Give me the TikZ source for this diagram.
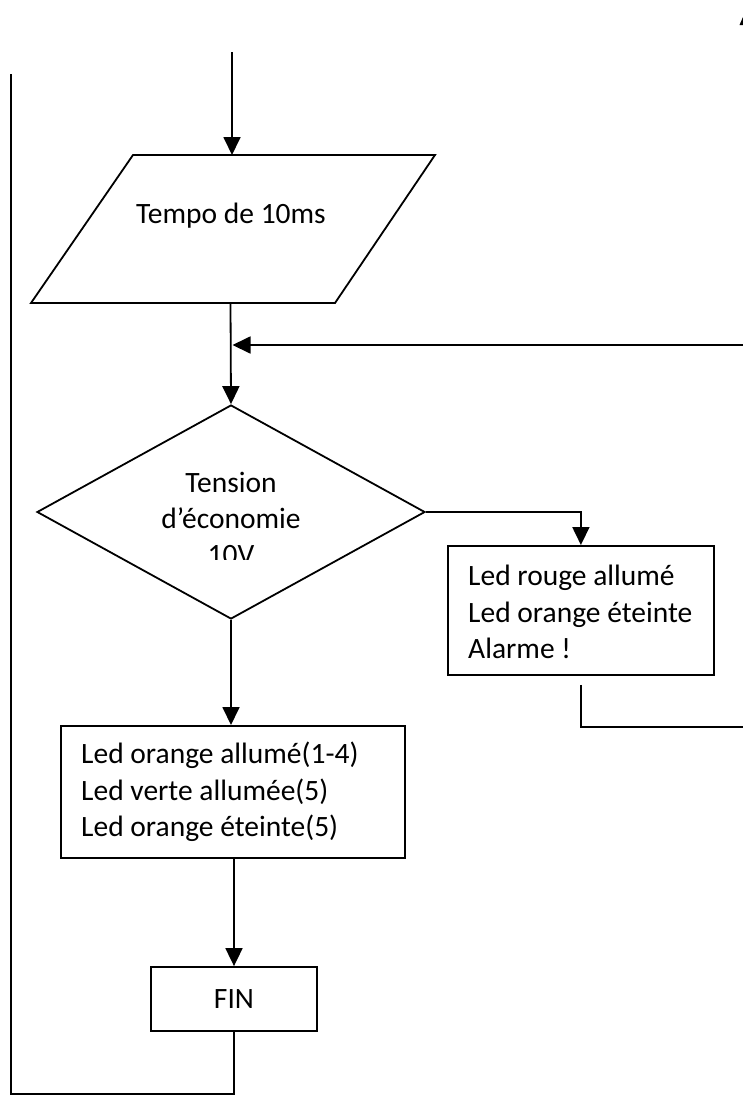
\documentclass[tikz,border=0pt]{standalone}
\usepackage{fontspec}
\setmainfont{Carlito}
\usetikzlibrary{arrows.meta,shapes.geometric}
\begin{document}
\begin{tikzpicture}[x=1pt,y=-1pt,
  line/.style={line width=1.8pt},
  arr/.style={line, -{Triangle[length=18pt,width=17pt]}},
  txt/.style={font=\fontsize{29.5}{36.5}\selectfont},
  box/.style={draw, line width=1.8pt, inner sep=0pt, anchor=north west},
  boxtxt/.style={txt, align=left, anchor=west, inner sep=0pt}
]
\useasboundingbox (0,0) rectangle (743,1095);

% top-right mark
\fill (739.5,25) -- (743,17) -- (743,25) -- cycle;

% parallelogram
\coordinate (ptl) at (133,155);
\coordinate (ptr) at (435,155);
\coordinate (pbr) at (335,303);
\coordinate (pbl) at (31,303);
\draw[line] (ptl) -- (ptr) -- (pbr) -- (pbl) -- cycle;
\node[txt, anchor=base] (tempo) at (231,223) {Tempo de 10ms};

\coordinate (start) at (232,52);
\coordinate (pt) at (232,155);
\coordinate (pb) at (230.5,303);
\draw[arr] (start) -- (pt);

% decision
\node[draw, diamond, line, minimum width=388pt, minimum height=214pt, inner sep=0pt] (dec) at (231,512) {};
\draw[arr] (pb) -- (dec.north);
\begin{scope}
  \clip (100,440) rectangle (360,559);
  \node[txt, anchor=base] (dt1) at (231,492) {Tension};
  \node[txt, anchor=base] (dt2) at (231,528) {d’économie};
  \node[txt, anchor=base] (dt3) at (231,564) {10V};
\end{scope}

% feedback
\coordinate (fb) at (743,345);
\coordinate (fbt) at (232.5,345);
\draw[arr] (fb) -- (fbt);

% red box
\node[box, minimum width=266pt, minimum height=129pt] (red) at (447,545) {};
\node[boxtxt] (redtxt) at (468,612) {Led rouge allumé\\Led orange éteinte\\Alarme !};
\draw[arr] (dec.east) -| (red.north);
\coordinate (r1) at ([yshift=-9pt]red.south);
\coordinate (r2) at (743,727);
\draw[line] (r1) |- (r2);

% left box
\node[box, minimum width=344pt, minimum height=132pt] (lbox) at (60,725) {};
\node[boxtxt] (ltxt) at (81,792) {Led orange allumé(1-4)\\Led verte allumée(5)\\Led orange éteinte(5)};
\draw[arr] (dec.south) -- (dec.south |- lbox.north);

% FIN
\node[draw, line, txt, minimum width=166pt, minimum height=64pt, inner sep=0pt] (fin) at (234,999) {FIN};
\draw[arr] (lbox.south -| fin.north) -- (fin.north);

% return loop
\coordinate (bl) at (11,1094);
\coordinate (tl) at (11,74);
\draw[line] (fin.south) |- (bl) -- (tl);
\end{tikzpicture}
\end{document}
